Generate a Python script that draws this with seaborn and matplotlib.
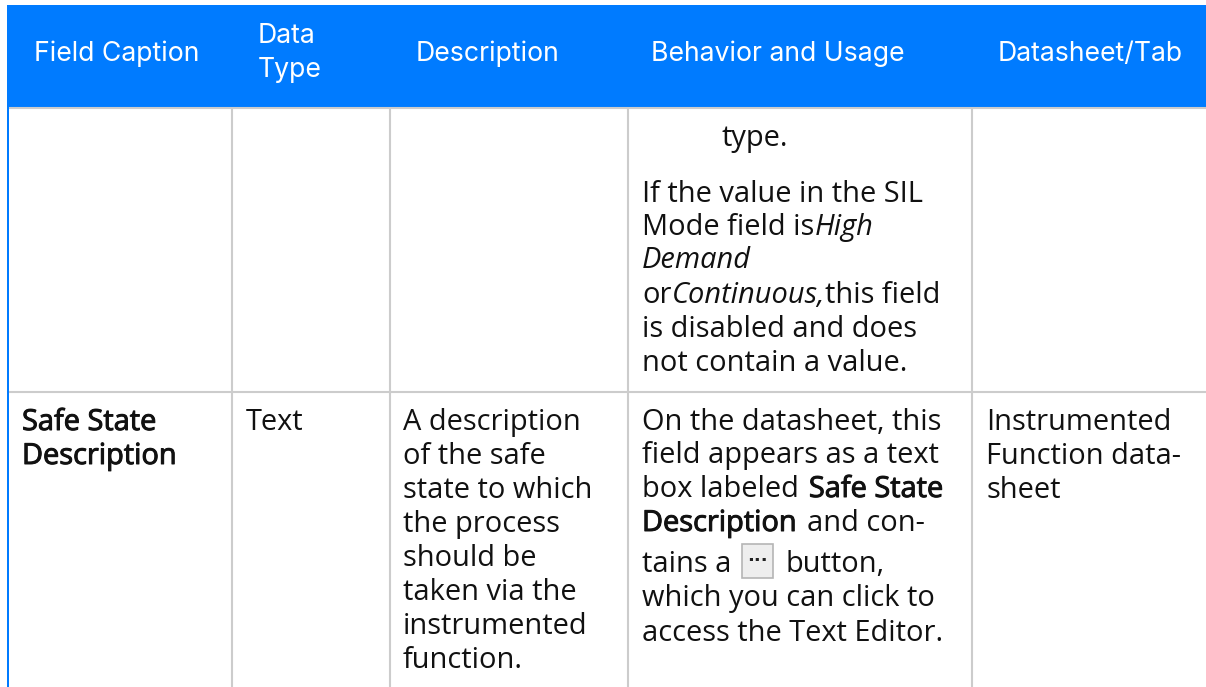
import matplotlib.pyplot as plt
import matplotlib.patheffects as pe
from matplotlib.patches import Rectangle
import seaborn as sns

# header labels, one list per cell because some wrap
HEADERS = [["Field Caption"], ["Data", "Type"], ["Description"], ["Behavior and Usage"], ["Datasheet/Tab"]]

# body text, fragments are (text, style)
FIELD_LINES = [[("Safe State", "bold")], [("Description", "bold")]]
TYPE_LINES = [[("Text", "normal")]]
DESC_LINES = ["A description", "of the safe", "state to which", "the process", "should be",
              "taken via the", "instrumented", "function."]
USAGE_TOP = [
    [("If the value in the SIL", "normal")],
    [("Mode field is", "normal"), ("High", "italic")],
    [("Demand", "italic")],
    [("or", "normal"), ("Continuous,", "italic"), ("this field", "normal")],
    [("is disabled and does", "normal")],
    [("not contain a value.", "normal")],
]
USAGE_BOTTOM = [
    [("On the datasheet, this", "normal")],
    [("field appears as a text", "normal")],
    [("box labeled", "normal"), ("Safe State", "bold")],
    [("Description", "bold"), ("and con-", "normal")],
    [("tains a", "normal")],
    [("which you can click to", "normal")],
    [("access the Text Editor.", "normal")],
]
TAB_LINES = ["Instrumented", "Function data-", "sheet"]

BLUE = "#007BFF"
GRID = "#CCCCCC"
INK = "#111111"
BODY_FONT = "Open Sans"
HEAD_FONT = "Inter"
BODY_SIZE = 20.85
HEAD_SIZE = 19.2

sns.set_theme(style="white")
plt.rcParams["font.family"] = [BODY_FONT, "DejaVu Sans"]

fig = plt.figure(figsize=(12.06, 6.87), dpi=100)
ax = fig.add_axes([0, 0, 1, 1])
ax.set_xlim(0, 1206)
ax.set_ylim(687, 0)
ax.axis("off")


def draw_fragments(x, y, fragments):
    """Draws one line of mixed style text, bold is faked with a thin stroke like the source."""
    renderer = fig.canvas.get_renderer()
    for i, (text, style) in enumerate(fragments):
        t = ax.text(x, y, text, fontsize=BODY_SIZE, color=INK, va="baseline", family=BODY_FONT,
                    fontstyle="italic" if style == "italic" else "normal")
        if style == "bold":
            t.set_path_effects([pe.withStroke(linewidth=0.7, foreground=INK)])
        x = t.get_window_extent(renderer).x1
        # only the labeled / con- lines have a real space between fragments
        if len(fragments) == 2 and "bold" in (fragments[0][1], fragments[1][1]):
            x += 10


def draw_lines(x, baselines, lines):
    for y, line in zip(baselines, lines):
        fragments = line if isinstance(line, list) else [(line, "normal")]
        draw_fragments(x, y, fragments)


# header band and table rules
ax.add_patch(Rectangle((7, 5), 1199, 102, color=BLUE, lw=0))
ax.add_patch(Rectangle((7, 5), 1.8, 682, color=BLUE, lw=0))
ax.plot([9, 1206], [108, 108], color=GRID, lw=1.5, solid_capstyle="butt")
ax.plot([9, 1206], [392, 392], color=GRID, lw=1.5, solid_capstyle="butt")
for x in [231.8, 389.8, 628.2, 972.2]:
    ax.plot([x, x], [108, 687], color=GRID, lw=1.5, solid_capstyle="butt")

# header labels
head_x = [34, 258, 416, 651, 998]
for x, label in zip(head_x, HEADERS):
    ys = [61] if len(label) == 1 else [43, 77]
    for y, part in zip(ys, label):
        ax.text(x, y, part, color="white", fontsize=HEAD_SIZE, family=[HEAD_FONT, "Liberation Sans"],
                va="baseline")

# body
pitch = [430, 464, 498, 532, 566, 600, 634, 668]
draw_lines(22, pitch, FIELD_LINES)
draw_lines(246, pitch, TYPE_LINES)
draw_lines(403, pitch, DESC_LINES)
draw_lines(986, pitch, TAB_LINES)

draw_fragments(722, 146, [("type.", "normal")])
draw_lines(642, [202, 235, 268, 303, 337, 371], USAGE_TOP)
draw_lines(642, [430, 463, 497, 531, 572, 606, 641], USAGE_BOTTOM)

# the little ellipsis button inside the text
ax.add_patch(Rectangle((741.5, 543.5), 31, 34, facecolor="#EEEEEE", edgecolor="#B5B5B5", lw=1.2))
ax.text(757, 566, "\u00b7\u00b7\u00b7", ha="center", va="baseline", fontsize=13, fontweight="bold",
        color="#222222", family="DejaVu Sans")
draw_fragments(785, 572, [("button,", "normal")])

sns.despine(ax=ax, left=True, bottom=True)
fig.savefig("out.png", dpi=100, facecolor="white")
plt.close(fig)
